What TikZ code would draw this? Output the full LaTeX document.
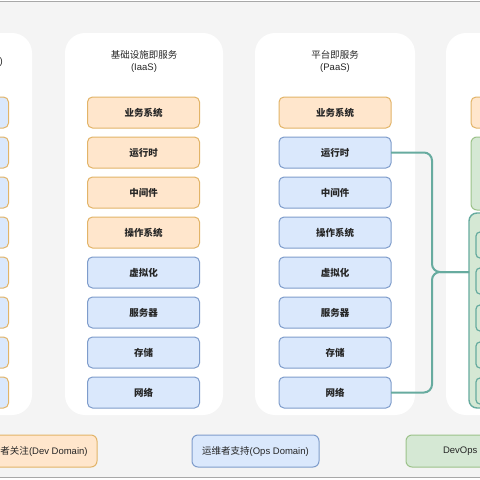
\documentclass[tikz,border=0pt]{standalone}
\usepackage{fontspec}
\setmainfont{Noto Sans CJK SC}
\newfontfamily\lat{Liberation Sans}
\definecolor{bgG}{HTML}{F4F4F4}
\definecolor{lineG}{HTML}{A8A8A8}
\definecolor{oF}{HTML}{FFE6CC}
\definecolor{oD}{HTML}{E2B468}
\definecolor{bF}{HTML}{DAE8FC}
\definecolor{bD}{HTML}{7E9CCB}
\definecolor{gF}{HTML}{D5E8D4}
\definecolor{gD}{HTML}{9CC28A}
\definecolor{teal}{HTML}{67AB9F}
\begin{document}
\begin{tikzpicture}[x=1pt,y=-1pt,
  every node/.style={inner sep=0pt, outer sep=0pt},
  panel/.style={fill=white, rounded corners=20pt},
  lbl/.style={font=\fontsize{9.5}{11}\selectfont\bfseries, text=black!85},
  ttl/.style={font=\fontsize{9.5}{11.5}\selectfont, align=center, text=black!85},
  ibox/.style={rectangle, rounded corners=5pt, minimum width=112pt, minimum height=31pt, line width=1pt, lbl},
  obox/.style={ibox, fill=oF, draw=oD},
  bbox/.style={ibox, fill=bF, draw=bD},
  lbox/.style={ibox, fill=bF, draw=oD},
  gbox/.style={rectangle, rounded corners=6pt, line width=1pt, fill=gF, draw=gD},
  tbox/.style={rectangle, rounded corners=8pt, line width=1.4pt, fill=gF, draw=teal},
  sbox/.style={rectangle, rounded corners=4pt, line width=1.2pt, fill=gF, draw=teal, minimum width=100pt, minimum height=26pt},
  legend/.style={rectangle, rounded corners=6pt, line width=1pt, minimum width=127pt, minimum height=32pt},
  legtxt/.style={font=\fontsize{9.5}{11}\selectfont, text=black!85},
  conn/.style={draw=teal, line width=2pt, rounded corners=8pt},
  rule/.style={draw=lineG, line width=1.2pt}
]
\useasboundingbox (0,0) rectangle (480,480);
\fill[white] (0,0) rectangle (480,480);
\fill[bgG] (0,2) rectangle (480,477.5);
\draw[rule] (0,1.5) -- (480,1.5);
\draw[rule] (0,477.8) -- (480,477.8);

% panels
\fill[panel] (-126,33) rectangle (32,415);
\fill[panel] (65,33) rectangle (223,415);
\fill[panel] (255,33) rectangle (415,415);
\fill[panel] (446,33) rectangle (605,415);

% titles
\node[ttl, anchor=east] (tL) at (2.8,62) {\lat )};
\node[ttl] (tI) at (144,61.5) {基础设施即服务\\{\lat (IaaS)}};
\node[ttl] (tP) at (335,61.5) {平台即服务\\{\lat (PaaS)}};

% left column
\foreach \k in {0,...,7} {
  \node[lbox] (l\k) at (-47.5,{112.5+40*\k}) {};
}

% IaaS column
\node[obox] (i0) at (143.5,112.5) {业务系统};
\node[obox] (i1) at (143.5,152.5) {运行时};
\node[obox] (i2) at (143.5,192.5) {中间件};
\node[obox] (i3) at (143.5,232.5) {操作系统};
\node[bbox] (i4) at (143.5,272.5) {虚拟化};
\node[bbox] (i5) at (143.5,312.5) {服务器};
\node[bbox] (i6) at (143.5,352.5) {存储};
\node[bbox] (i7) at (143.5,392.5) {网络};

% PaaS column
\node[obox] (p0) at (335,112.5) {业务系统};
\node[bbox] (p1) at (335,152.5) {运行时};
\node[bbox] (p2) at (335,192.5) {中间件};
\node[bbox] (p3) at (335,232.5) {操作系统};
\node[bbox] (p4) at (335,272.5) {虚拟化};
\node[bbox] (p5) at (335,312.5) {服务器};
\node[bbox] (p6) at (335,352.5) {存储};
\node[bbox] (p7) at (335,392.5) {网络};

% right column
\node[obox] (r0) at (527,112.5) {};
\node[gbox, minimum width=112pt, minimum height=73pt] (rg) at (527,173.5) {};
\node[tbox, minimum width=114pt, minimum height=195pt] (rc) at (526,310.5) {};
\foreach \k/\y in {0/245,1/281,2/318,3/355,4/391} {
  \node[sbox] (s\k) at (526,\y) {};
}

% connectors
\coordinate (jn) at (432,272);
\draw[conn] (p1.east) -| (jn) -- (rc.west |- jn);
\draw[conn] (p7.east) -| (jn) -- (rc.west |- jn);

% legends
\node[legend, fill=oF, draw=oD] (gDev) at (33.5,451) {};
\node[legtxt, anchor=west] (tDev) at (0.5,451) {者关注{\lat (Dev Domain)}};
\node[legend, fill=bF, draw=bD] (gOps) at (255.5,451) {};
\node[legtxt] (tOps) at (255.5,451) {运维者支持{\lat (Ops Domain)}};
\node[legend, fill=gF, draw=gD] (gDO) at (469.5,451) {};
\node[legtxt, anchor=west] (tDO) at (443,451) {\lat DevOps};
\end{tikzpicture}
\end{document}
